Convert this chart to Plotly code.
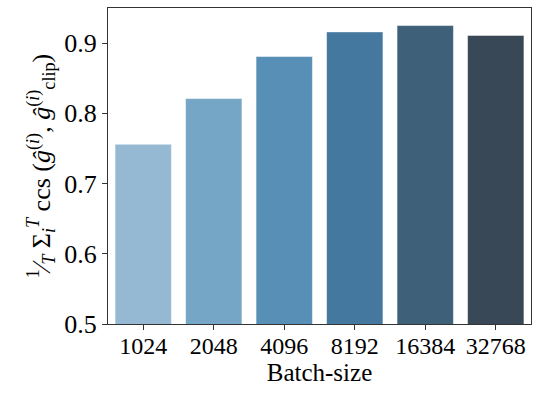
import plotly.graph_objects as go

# data
batch_sizes = ["1024", "2048", "4096", "8192", "16384", "32768"]
ccs_values = [0.756, 0.821, 0.881, 0.916, 0.925, 0.911]
bar_colors = ["#96b9d3", "#76a6c5", "#588fb6", "#44789e", "#3f6079", "#384856"]

font_family = "Liberation Serif, DejaVu Serif, serif"

fig = go.Figure(go.Bar(
    x=batch_sizes,
    y=ccs_values,
    marker=dict(color=bar_colors, line=dict(color="rgba(255,255,255,0.5)", width=1)),
    width=0.8,
))

ylabel = ("<sup>1</sup>⁄<sub><i>T</i></sub> Σ<sub><i>i</i></sub><sup><i>T</i></sup> ccs "
          "(<i>ĝ</i><sup>(<i>i</i>)</sup>, <i>ĝ</i><sup>(<i>i</i>)</sup><sub>clip</sub>)")

fig.update_layout(
    width=539, height=396,
    margin=dict(l=108, r=8, t=8, b=72),
    plot_bgcolor="white", paper_bgcolor="white",
    font=dict(family=font_family, size=25, color="black"),
    showlegend=False,
    bargap=0.2,
)
fig.update_xaxes(
    type="category",
    title=dict(text="Batch-size", standoff=0, font=dict(size=25)),
    showline=True, mirror=True, linecolor="#333333", linewidth=1.2,
    ticks="outside", ticklen=5, tickcolor="#333333",
    tickfont=dict(size=24), ticklabelstandoff=-5,
)
fig.update_yaxes(
    range=[0.5, 0.95],
    tickvals=[0.5, 0.6, 0.7, 0.8, 0.9],
    ticktext=["0.5", "0.6", "0.7", "0.8", "0.9"],
    title=dict(text=ylabel, standoff=6, font=dict(size=26)),
    showline=True, mirror=True, linecolor="#333333", linewidth=1.2,
    ticks="outside", ticklen=5, tickcolor="#333333",
    showgrid=False, zeroline=False,
    tickfont=dict(size=26),
)

# drop the default page margin so the figure sits at the window's corner
fig.write_html("out.html",
               config={"displayModeBar": False},
               post_script="document.body.style.margin='0';document.body.style.overflow='hidden';")
